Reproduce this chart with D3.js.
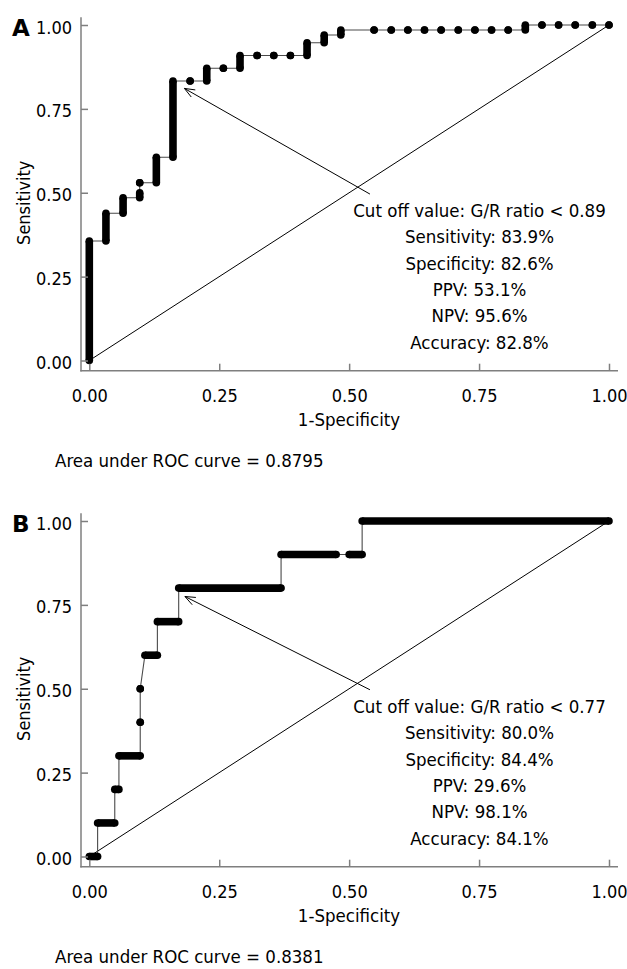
<!DOCTYPE html>
<html>
<head>
<meta charset="utf-8">
<script src="https://cdn.jsdelivr.net/npm/d3@7"></script>
<style>
  body { margin: 0; background: #fff; }
</style>
</head>
<body>
<svg id="chart" width="627" height="969"></svg>
<script>
// tick positions shared by both axes
const ticks = [0, 0.25, 0.5, 0.75, 1];

// panel A: [1-specificity, sensitivity from, sensitivity to] -> vertical stacks of points
const rocA = [
  [0.000, 0.000, 0.356],
  [0.032, 0.356, 0.439],
  [0.065, 0.439, 0.485],
  [0.097, 0.485, 0.500],
  [0.097, 0.530, 0.530],
  [0.129, 0.530, 0.606],
  [0.161, 0.606, 0.833],
  [0.194, 0.833, 0.833],
  [0.226, 0.833, 0.871],
  [0.258, 0.871, 0.871],
  [0.290, 0.871, 0.909],
  [0.323, 0.909, 0.909],
  [0.355, 0.909, 0.909],
  [0.387, 0.909, 0.909],
  [0.419, 0.909, 0.947],
  [0.452, 0.947, 0.970],
  [0.484, 0.970, 0.985],
  [0.548, 0.985, 0.985],
  [0.581, 0.985, 0.985],
  [0.613, 0.985, 0.985],
  [0.645, 0.985, 0.985],
  [0.677, 0.985, 0.985],
  [0.710, 0.985, 0.985],
  [0.742, 0.985, 0.985],
  [0.774, 0.985, 0.985],
  [0.806, 0.985, 0.985],
  [0.839, 0.985, 1.000],
  [0.871, 1.000, 1.000],
  [0.903, 1.000, 1.000],
  [0.935, 1.000, 1.000],
  [0.968, 1.000, 1.000],
  [1.000, 1.000, 1.000]
];

// panel B: [sensitivity, 1-specificity from, 1-specificity to] -> horizontal runs of points
const rocB = [
  [0.0, 0.000, 0.016],
  [0.1, 0.016, 0.049],
  [0.2, 0.049, 0.057],
  [0.3, 0.057, 0.098],
  [0.4, 0.098, 0.098],
  [0.5, 0.098, 0.098],
  [0.6, 0.107, 0.131],
  [0.7, 0.131, 0.172],
  [0.8, 0.172, 0.369],
  [0.9, 0.369, 0.475],
  [0.9, 0.500, 0.525],
  [1.0, 0.525, 1.000]
];

const statsA = ["Cut off value: G/R ratio < 0.89", "Sensitivity: 83.9%", "Specificity: 82.6%",
                "PPV: 53.1%", "NPV: 95.6%", "Accuracy: 82.8%"];
const statsB = ["Cut off value: G/R ratio < 0.77", "Sensitivity: 80.0%", "Specificity: 84.4%",
                "PPV: 29.6%", "NPV: 98.1%", "Accuracy: 84.1%"];
const aucA = "Area under ROC curve = 0.8795";
const aucB = "Area under ROC curve = 0.8381";
// arrow [tail, head] in data units
const arrowA = [[0.540, 0.496], [0.183, 0.811]];
const arrowB = [[0.540, 0.497], [0.184, 0.775]];

const font = "'DejaVu Sans Condensed', 'DejaVu Sans', sans-serif";
const fs = 18.5, r = 3.8;
const axisColor = "#7f7f7f";

const svg = d3.select("#chart");

const x = d3.scaleLinear().domain([0, 1]).range([89.3, 609]);
const y = d3.scaleLinear().domain([0, 1]).range([360.5, 25]);

function panel(letter, top, segs, stats, auc, arrow) {
  const g = svg.append("g").attr("transform", "translate(0," + top + ")");

  // reference diagonal
  g.append("line")
    .attr("x1", x(0)).attr("y1", y(0))
    .attr("x2", x(1)).attr("y2", y(1))
    .attr("stroke", "#000").attr("stroke-width", 1);

  // connecting line
  const pts = segs.flatMap(s => [[s[0], s[1]], [s[2], s[3]]]);
  g.append("path")
    .attr("d", d3.line().x(d => x(d[0])).y(d => y(d[1]))(pts))
    .attr("fill", "none").attr("stroke", "#4a4a4a").attr("stroke-width", 1.1);

  // stacked points: a thick band plus a dot at each end
  g.selectAll(".band").data(segs.filter(s => s[0] !== s[2] || s[1] !== s[3]))
    .enter().append("line")
      .attr("x1", s => x(s[0])).attr("y1", s => y(s[1]))
      .attr("x2", s => x(s[2])).attr("y2", s => y(s[3]))
      .attr("stroke", "#000").attr("stroke-width", 2 * r);
  g.selectAll(".dot").data(pts)
    .enter().append("circle")
      .attr("cx", d => x(d[0])).attr("cy", d => y(d[1]))
      .attr("r", r).attr("fill", "#000");

  // arrow
  const t = [x(arrow[0][0]), y(arrow[0][1])], h = [x(arrow[1][0]), y(arrow[1][1])];
  const ang = Math.atan2(t[1] - h[1], t[0] - h[0]), len = 11, spread = 0.38;
  g.append("path")
    .attr("d", "M" + t + "L" + h +
      "M" + [h[0] + len * Math.cos(ang - spread), h[1] + len * Math.sin(ang - spread)] +
      "L" + h +
      "L" + [h[0] + len * Math.cos(ang + spread), h[1] + len * Math.sin(ang + spread)])
    .attr("fill", "none").attr("stroke", "#000").attr("stroke-width", 1);

  // stats text
  g.selectAll(".stat").data(stats)
    .enter().append("text")
      .attr("x", 479.5).attr("y", (d, i) => 216.7 + i * 26.4)
      .attr("text-anchor", "middle")
      .attr("font-family", font).attr("font-size", fs)
      .text(d => d);

  // axes
  const yAxis = d3.axisLeft(y).tickValues(ticks).tickFormat(d3.format(".2f"))
    .tickSizeInner(-7).tickSizeOuter(0).tickPadding(9);
  const xAxis = d3.axisBottom(x).tickValues(ticks).tickFormat(d3.format(".2f"))
    .tickSizeInner(-7).tickSizeOuter(0).tickPadding(19);

  const ya = g.append("g").attr("transform", "translate(81,0)").call(yAxis);
  const xa = g.append("g").attr("transform", "translate(0,370.7)").call(xAxis);
  [ya, xa].forEach(a => {
    a.select(".domain").remove();
    a.selectAll(".tick line").attr("stroke", axisColor).attr("stroke-width", 1.5);
    a.selectAll(".tick text").attr("font-family", font).attr("font-size", 18).attr("fill", "#000");
  });
  ya.selectAll(".tick text").attr("dy", "0.45em");

  g.append("line").attr("x1", 81).attr("x2", 81).attr("y1", 17.3).attr("y2", 371.4)
    .attr("stroke", axisColor).attr("stroke-width", 1.5);
  g.append("line").attr("x1", 80.3).attr("x2", 618).attr("y1", 370.7).attr("y2", 370.7)
    .attr("stroke", axisColor).attr("stroke-width", 1.5);

  // titles
  g.append("text")
    .attr("transform", "translate(30," + (y(0.5) + 10) + ") rotate(-90)")
    .attr("text-anchor", "middle")
    .attr("font-family", font).attr("font-size", 18)
    .text("Sensitivity");
  g.append("text")
    .attr("x", 349).attr("y", 426)
    .attr("text-anchor", "middle")
    .attr("font-family", font).attr("font-size", fs)
    .text("1-Specificity");
  g.append("text")
    .attr("x", 55).attr("y", 467)
    .attr("font-family", font).attr("font-size", fs)
    .text(auc);
  g.append("text")
    .attr("x", 12).attr("y", 36)
    .attr("font-family", "'DejaVu Sans', sans-serif").attr("font-weight", "bold").attr("font-size", 23)
    .text(letter);
}

panel("A", 0, rocA.map(d => [d[0], d[1], d[0], d[2]]), statsA, aucA, arrowA);
panel("B", 496, rocB.map(d => [d[1], d[0], d[2], d[0]]), statsB, aucB, arrowB);
</script>
</body>
</html>
